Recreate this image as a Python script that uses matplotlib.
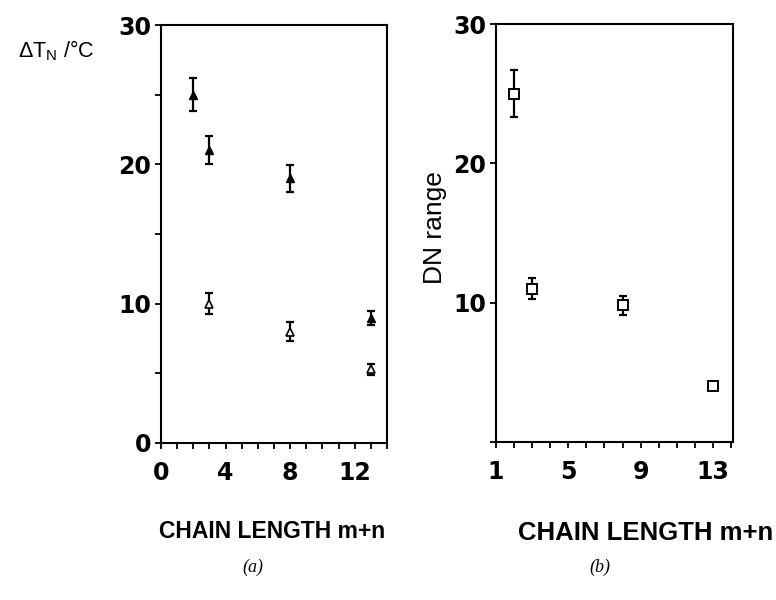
import matplotlib
matplotlib.use("Agg")
import matplotlib.pyplot as plt
from matplotlib.ticker import MultipleLocator

plt.rcParams['mathtext.fontset'] = 'custom'
plt.rcParams['mathtext.rm'] = 'Liberation Sans'

# panel (a): delta T_N vs chain length
filled_x = [2, 3, 8, 13]
filled_y = [25, 21, 19, 9]
filled_err = [1.2, 1.0, 0.95, 0.5]
open_x = [3, 8, 13]
open_y = [10, 8, 5.3]
open_err = [0.75, 0.7, 0.4]

# panel (b): DN range vs chain length
dn_x = [2, 3, 8, 13]
dn_y = [25, 11, 9.8, 4]
dn_err = [1.7, 0.75, 0.7, 0.0]

xticks_a = [0, 4, 8, 12]
xticks_b = [1, 5, 9, 13]
yticks_a = [0, 10, 20, 30]
yticks_b = [10, 20, 30]

fig = plt.figure(figsize=(7.76, 6.0), dpi=100)
ax1 = fig.add_axes([0.2075, 0.2617, 0.2912, 0.6966])
ax2 = fig.add_axes([0.639, 0.2633, 0.3056, 0.6967])

tickfont = dict(family='DejaVu Sans', weight='bold', size=17)

def style(ax):
    for s in ax.spines.values():
        s.set_linewidth(1.5)
    ax.tick_params(which='both', direction='out', length=4, width=1.3)
    ax.tick_params(axis='x', which='both', pad=9)
    ax.tick_params(axis='y', which='both', pad=3)

# (a)
ax1.errorbar(filled_x, filled_y, yerr=filled_err, fmt='none', ecolor='black',
             elinewidth=1.6, capsize=3, capthick=1.6, zorder=2)
ax1.plot(filled_x, filled_y, '^', color='black', markersize=6, zorder=3)
ax1.errorbar(open_x, open_y, yerr=open_err, fmt='none', ecolor='black',
             elinewidth=1.6, capsize=3, capthick=1.6, zorder=2)
ax1.plot(open_x, open_y, '^', mfc='white', mec='black', mew=1.2, markersize=6, zorder=3)
ax1.set_xlim(0, 14)
ax1.set_ylim(0, 30)
ax1.set_xticks(xticks_a)
ax1.xaxis.set_minor_locator(MultipleLocator(1))
ax1.set_yticks(yticks_a)
ax1.yaxis.set_minor_locator(MultipleLocator(5))
ax1.set_xticklabels([str(v) for v in xticks_a], fontdict=tickfont)
ax1.set_yticklabels([str(v) for v in yticks_a], fontdict=tickfont)
style(ax1)

# (b)
ax2.errorbar(dn_x[:3], dn_y[:3], yerr=dn_err[:3], fmt='none', ecolor='black',
             elinewidth=1.6, capsize=3, capthick=1.6, zorder=2)
ax2.plot(dn_x, dn_y, 's', mfc='white', mec='black', mew=1.4, markersize=6.5, zorder=3)
ax2.set_xlim(1, 14.1)
ax2.set_ylim(0, 30)
ax2.set_xticks(xticks_b)
ax2.xaxis.set_minor_locator(MultipleLocator(1))
ax2.set_yticks([0] + yticks_b)
ax2.set_yticklabels([''] + [str(v) for v in yticks_b], fontdict=tickfont)
ax2.set_xticklabels([str(v) for v in xticks_b], fontdict=tickfont)
style(ax2)

fig.text(0.023, 0.915, r'$\Delta$T$_{\rm N}$ /°C', family='Liberation Sans',
         fontsize=15.5, va='center', ha='left')
fig.text(0.561, 0.62, 'DN range', family='Liberation Sans', fontsize=19,
         rotation=90, va='center', ha='center')

fig.text(0.351, 0.115, 'CHAIN LENGTH m+n', family='Liberation Sans',
         weight='bold', fontsize=16.5, ha='center', va='center')
fig.text(0.832, 0.112, 'CHAIN LENGTH m+n', family='Liberation Sans',
         weight='bold', fontsize=18.5, ha='center', va='center')

fig.text(0.326, 0.055, '(a)', family='Liberation Serif', style='italic',
         fontsize=13, ha='center', va='center')
fig.text(0.773, 0.055, '(b)', family='Liberation Serif', style='italic',
         fontsize=13, ha='center', va='center')

fig.savefig('out.png', dpi=100)
